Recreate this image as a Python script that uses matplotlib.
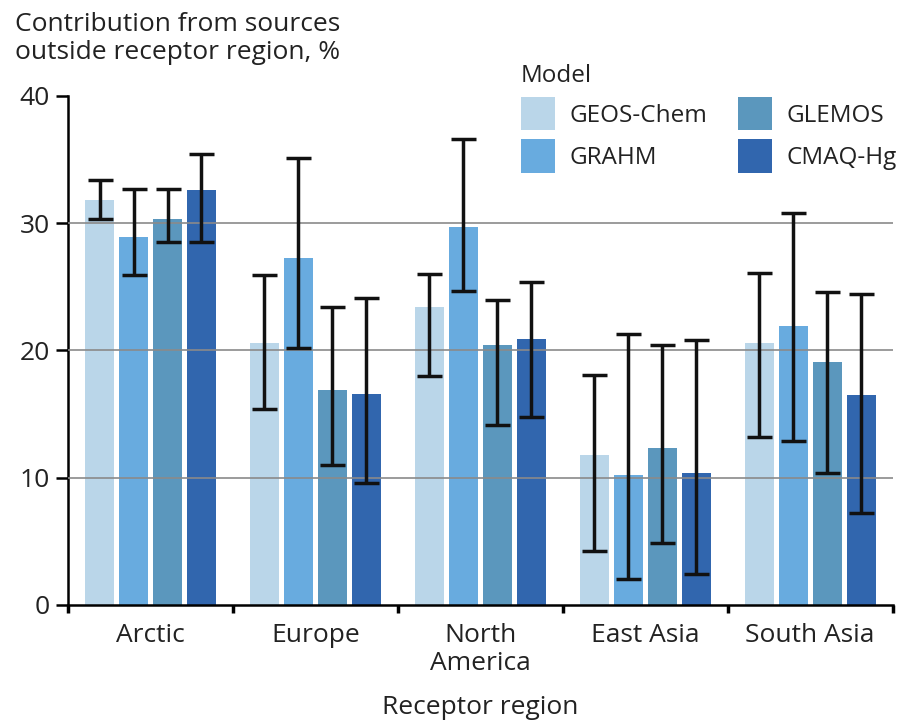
import numpy as np
import matplotlib
matplotlib.use("Agg")
import matplotlib.pyplot as plt

plt.rcParams["font.family"] = ["Open Sans", "DejaVu Sans"]

# Receptor regions and models
regions = ["Arctic", "Europe", "North\nAmerica", "East Asia", "South Asia"]
models = ["GEOS-Chem", "GRAHM", "GLEMOS", "CMAQ-Hg"]
colors = ["#bad6e9", "#68abdf", "#5b97bd", "#3166ae"]

# Contribution from sources outside receptor region (%), one list per model
geos_chem = [31.8, 20.6, 23.4, 11.8, 20.6]
grahm = [28.9, 27.3, 29.7, 10.2, 21.9]
glemos = [30.3, 16.9, 20.4, 12.3, 19.1]
cmaq_hg = [32.6, 16.6, 20.9, 10.4, 16.5]

# Range (low, high) shown by the error bars
geos_chem_lo = [30.3, 15.4, 18.0, 4.2, 13.2]
geos_chem_hi = [33.4, 25.9, 26.0, 18.1, 26.1]
grahm_lo = [25.9, 20.2, 24.7, 2.0, 12.9]
grahm_hi = [32.7, 35.1, 36.6, 21.3, 30.8]
glemos_lo = [28.5, 11.0, 14.1, 4.9, 10.4]
glemos_hi = [32.7, 23.4, 24.0, 20.4, 24.6]
cmaq_hg_lo = [28.5, 9.6, 14.8, 2.4, 7.2]
cmaq_hg_hi = [35.4, 24.1, 25.4, 20.8, 24.4]

values = [geos_chem, grahm, glemos, cmaq_hg]
lows = [geos_chem_lo, grahm_lo, glemos_lo, cmaq_hg_lo]
highs = [geos_chem_hi, grahm_hi, glemos_hi, cmaq_hg_hi]

FS = 19
FS_LEG = 17.5
TXT = "#222222"

fig = plt.figure(figsize=(9.08, 7.21), dpi=100)
ax = fig.add_axes([0.075, 0.161, 0.908, 0.706])

centers = np.arange(len(regions)) + 0.5
width = 0.176
step = 0.206
offsets = (np.arange(len(models)) - 1.5) * step

for i, model in enumerate(models):
    x = centers + offsets[i]
    v = np.array(values[i])
    err = [v - np.array(lows[i]), np.array(highs[i]) - v]
    ax.bar(x, v, width=width, color=colors[i], label=model, zorder=2)
    ax.errorbar(x, v, yerr=err, fmt="none", ecolor="#111111",
                elinewidth=2.5, capsize=9, capthick=2.5, zorder=4)

# horizontal reference lines
for y in [10, 20, 30]:
    ax.axhline(y, color="#8a8a8a", lw=1.2, zorder=3)

ax.set_xlim(0, 5)
ax.set_ylim(0, 40)
ax.set_yticks([0, 10, 20, 30, 40])
ax.set_xticks(np.arange(0, 6))
ax.set_xticklabels([])
ax.set_xticks(centers, minor=True)
ax.set_xticklabels(regions, minor=True, linespacing=1.15)
ax.tick_params(axis="x", which="minor", length=0, pad=13, labelsize=FS,
               labelcolor=TXT)
ax.tick_params(axis="x", which="major", length=6, width=2.5, direction="out")
ax.tick_params(axis="y", length=9, width=1.8, pad=4, labelsize=FS,
               labelcolor=TXT)
for s in ["top", "right"]:
    ax.spines[s].set_visible(False)
for s in ["left", "bottom"]:
    ax.spines[s].set_linewidth(1.8)

ax.set_xlabel("Receptor region", fontsize=FS, color=TXT, va="center")
ax.xaxis.set_label_coords(0.5, -0.202)
fig.text(0.016, 0.983, "Contribution from sources\noutside receptor region, %",
         fontsize=FS, color=TXT, va="top", ha="left", linespacing=1.15)

leg = ax.legend(ncol=2, title="Model", loc="upper left",
                bbox_to_anchor=(0.549, 1.062), frameon=False, fontsize=FS_LEG,
                title_fontsize=FS_LEG, handlelength=1.4, handleheight=1.75,
                labelspacing=0.35, columnspacing=1.25, handletextpad=0.6,
                borderpad=0, borderaxespad=0, alignment="left")
leg.get_title().set_color(TXT)
for t in leg.get_texts():
    t.set_color(TXT)

fig.savefig("out.png", dpi=100)
